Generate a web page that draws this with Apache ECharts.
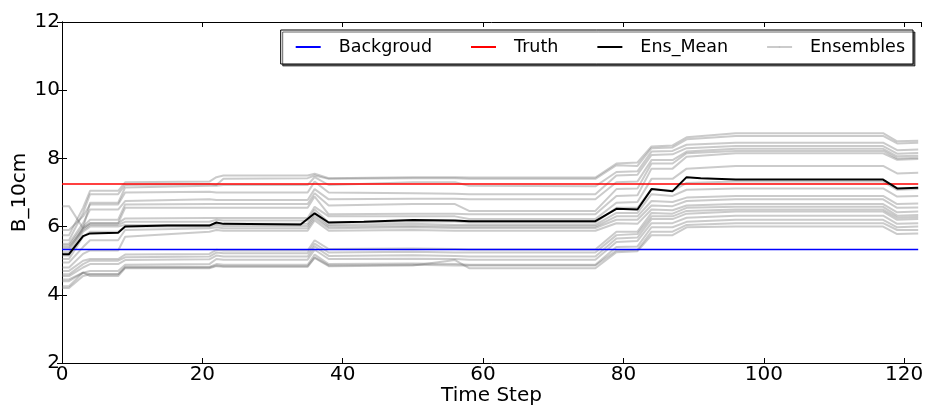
<!DOCTYPE html>
<html>
<head>
<meta charset="utf-8">
<script src="https://cdn.jsdelivr.net/npm/echarts@6/dist/echarts.min.js"></script>
<style>
  html, body { margin: 0; padding: 0; background: #fff; }
  #main { width: 929px; height: 412px; }
</style>
</head>
<body>
<div id="main"></div>
<script>
// reference levels
var backgroundVal = 5.33;
var truthVal = 7.25;
var lineEnd = 122;

// ensemble mean
var meanSteps = [0, 1, 3, 4, 8, 9, 15, 21, 22, 23, 34, 36, 38, 43, 50, 56, 58, 76, 79, 82, 84, 87, 89, 91, 96, 117, 119, 122];
var meanVals  = [5.19, 5.19, 5.72, 5.80, 5.82, 6.00, 6.03, 6.03, 6.12, 6.08, 6.06, 6.39, 6.12, 6.14, 6.19, 6.18, 6.16, 6.16, 6.52, 6.50, 7.10, 7.04, 7.45, 7.42, 7.38, 7.38, 7.12, 7.14];

// ensemble members, values at these steps
var ensSteps = [0, 1, 3, 4, 8, 9, 21, 22, 23, 35, 36, 38, 50, 56, 58, 76, 79, 82, 84, 87, 89, 96, 117, 119, 122];
var members = [
  [5.75, 5.75, 6.55, 7.05, 7.05, 7.30, 7.32, 7.45, 7.50, 7.50, 7.55, 7.42, 7.45, 7.45, 7.44, 7.44, 7.85, 7.88, 8.35, 8.38, 8.62, 8.74, 8.74, 8.50, 8.52],
  [5.60, 5.60, 6.40, 6.95, 6.95, 7.22, 7.25, 7.22, 7.40, 7.42, 7.50, 7.40, 7.42, 7.42, 7.40, 7.40, 7.80, 7.78, 8.30, 8.32, 8.56, 8.66, 8.66, 8.44, 8.46],
  [6.60, 6.60, 5.95, 6.70, 6.70, 7.15, 7.20, 7.20, 7.22, 7.22, 7.45, 7.22, 7.30, 7.30, 7.20, 7.18, 7.60, 7.62, 8.20, 8.22, 8.40, 8.46, 8.46, 8.24, 8.26],
  [5.90, 5.90, 6.30, 6.65, 6.65, 7.00, 7.02, 7.00, 7.00, 7.00, 7.32, 7.00, 6.98, 6.96, 6.95, 6.95, 7.50, 7.52, 8.10, 8.12, 8.30, 8.36, 8.36, 8.14, 8.16],
  [5.50, 5.50, 6.10, 6.50, 6.50, 6.75, 6.80, 6.78, 6.78, 6.78, 7.10, 6.80, 6.82, 6.82, 6.80, 6.80, 7.30, 7.32, 7.95, 7.95, 8.20, 8.28, 8.28, 8.06, 8.08],
  [5.45, 5.45, 6.00, 6.20, 6.20, 6.65, 6.66, 6.66, 6.66, 6.66, 6.98, 6.62, 6.66, 6.66, 6.46, 6.46, 7.10, 7.12, 7.85, 7.85, 8.15, 8.22, 8.22, 8.00, 8.02],
  [5.35, 5.35, 5.95, 6.10, 6.10, 6.55, 6.55, 6.55, 6.55, 6.55, 6.88, 6.36, 6.38, 6.38, 6.36, 6.36, 6.90, 6.92, 7.70, 7.70, 8.05, 8.15, 8.15, 7.96, 7.98],
  [5.25, 5.25, 5.95, 6.10, 6.10, 6.24, 6.25, 6.25, 6.25, 6.25, 6.58, 6.30, 6.30, 6.30, 6.22, 6.22, 6.70, 6.72, 7.40, 7.40, 7.70, 7.78, 7.78, 7.56, 7.58],
  [5.40, 5.40, 5.90, 6.05, 6.05, 6.14, 6.14, 6.20, 6.18, 6.18, 6.50, 6.12, 6.15, 6.15, 6.12, 6.12, 6.55, 6.55, 7.10, 7.05, 7.28, 7.32, 7.32, 7.08, 7.10],
  [5.15, 5.15, 5.85, 6.00, 6.00, 6.05, 6.05, 6.10, 6.08, 6.08, 6.40, 6.05, 6.08, 6.05, 6.05, 6.05, 6.40, 6.40, 6.95, 6.90, 7.08, 7.12, 7.12, 6.88, 6.90],
  [5.05, 5.05, 5.70, 5.85, 5.85, 6.00, 6.00, 6.05, 6.02, 6.02, 6.32, 6.00, 6.02, 6.00, 6.00, 6.00, 6.30, 6.30, 6.75, 6.72, 6.85, 6.90, 6.90, 6.66, 6.68],
  [4.95, 4.95, 5.40, 5.60, 5.60, 5.90, 5.95, 5.98, 5.95, 5.95, 6.25, 5.95, 5.98, 5.96, 5.96, 5.96, 6.20, 6.20, 6.62, 6.60, 6.75, 6.80, 6.80, 6.55, 6.56],
  [4.80, 4.80, 5.20, 5.30, 5.30, 5.70, 5.85, 5.90, 5.88, 5.88, 6.18, 5.88, 5.90, 5.88, 5.88, 5.88, 6.10, 6.08, 6.50, 6.48, 6.62, 6.66, 6.66, 6.42, 6.44],
  [4.70, 4.70, 5.00, 5.05, 5.05, 5.18, 5.20, 5.32, 5.30, 5.30, 5.60, 5.34, 5.36, 5.34, 5.33, 5.33, 5.85, 5.85, 6.40, 6.38, 6.55, 6.58, 6.58, 6.32, 6.34],
  [4.60, 4.60, 4.90, 5.00, 5.00, 5.10, 5.12, 5.24, 5.22, 5.22, 5.50, 5.24, 5.26, 5.24, 5.24, 5.24, 5.75, 5.78, 6.30, 6.30, 6.46, 6.50, 6.50, 6.26, 6.28],
  [4.55, 4.55, 4.80, 4.90, 4.90, 5.02, 5.04, 5.15, 5.12, 5.12, 5.42, 5.14, 5.16, 5.14, 5.12, 5.12, 5.65, 5.68, 6.22, 6.22, 6.38, 6.44, 6.44, 6.20, 6.22],
  [4.45, 4.45, 4.65, 4.70, 4.70, 4.88, 4.90, 5.05, 5.03, 5.03, 5.32, 5.05, 5.06, 5.05, 5.03, 5.03, 5.55, 5.58, 6.10, 6.10, 6.26, 6.32, 6.32, 6.08, 6.10],
  [4.40, 4.40, 4.65, 4.60, 4.60, 4.82, 4.82, 4.90, 4.88, 4.88, 5.18, 4.90, 4.92, 4.90, 4.88, 4.88, 5.40, 5.42, 5.98, 5.98, 6.14, 6.20, 6.20, 5.98, 6.00],
  [4.20, 4.20, 4.55, 4.60, 4.60, 4.80, 4.80, 4.86, 4.84, 4.84, 5.10, 4.86, 4.88, 4.86, 4.86, 4.86, 5.30, 5.32, 5.85, 5.85, 6.05, 6.10, 6.10, 5.90, 5.90],
  [4.25, 4.25, 4.65, 4.55, 4.55, 4.78, 4.78, 4.84, 4.82, 4.82, 5.08, 4.84, 4.86, 5.02, 4.78, 4.78, 5.25, 5.28, 5.75, 5.75, 5.98, 6.00, 6.00, 5.78, 5.80]
];

var xTicks = [0, 20, 40, 60, 80, 100, 120];
var yTicks = [2, 4, 6, 8, 10, 12];

var chart = echarts.init(document.getElementById('main'));

var font = 'DejaVu Sans';
var series = [];

members.forEach(function(m) {
  series.push({
    name: 'Ensembles',
    type: 'line',
    symbol: 'none',
    data: ensSteps.map(function(s, i) { return [s, m[i]]; }),
    lineStyle: { color: 'rgba(110,110,110,0.36)', width: 2 },
    itemStyle: { color: 'rgba(180,180,180,0.6)' },
    z: 1
  });
});

series.push({
  name: 'Backgroud',
  type: 'line',
  symbol: 'none',
  data: [[0, backgroundVal], [lineEnd, backgroundVal]],
  lineStyle: { color: '#0000ff', width: 1.6 },
  itemStyle: { color: '#0000ff' },
  z: 3
});
series.push({
  name: 'Truth',
  type: 'line',
  symbol: 'none',
  data: [[0, truthVal], [lineEnd, truthVal]],
  lineStyle: { color: '#ff0000', width: 1.6 },
  itemStyle: { color: '#ff0000' },
  z: 3
});
series.push({
  name: 'Ens_Mean',
  type: 'line',
  symbol: 'none',
  data: meanSteps.map(function(s, i) { return [s, meanVals[i]]; }),
  lineStyle: { color: '#000000', width: 2 },
  itemStyle: { color: '#000000' },
  z: 4
});

var option = {
  animation: false,
  backgroundColor: '#fff',
  textStyle: { fontFamily: font },
  grid: { left: 62, right: 8, top: 22, bottom: 49, outerBoundsMode: 'none', containLabel: false },
  legend: {
    data: ['Backgroud', 'Truth', 'Ens_Mean', 'Ensembles'],
    right: 16,
    top: 30,
    padding: [8, 8, 8, 14],
    itemWidth: 25,
    itemHeight: 2,
    itemGap: 38,
    backgroundColor: '#fff',
    borderColor: '#000',
    borderWidth: 1,
    borderRadius: 0,
    shadowColor: 'rgba(0,0,0,0.6)',
    shadowOffsetX: 2,
    shadowOffsetY: 2,
    shadowBlur: 0,
    textStyle: { fontFamily: font, fontSize: 17.5, color: '#000', padding: [0, 0, 0, 13] }
  },
  xAxis: [{
    type: 'value',
    min: 0,
    max: 122.4,
    interval: 20,
    name: 'Time Step',
    nameLocation: 'middle',
    nameGap: 23,
    nameMoveOverlap: false,
    nameTextStyle: { fontFamily: font, fontSize: 20, color: '#000' },
    axisLine: { show: true, lineStyle: { color: '#000', width: 1 } },
    axisTick: { show: true, inside: true, length: 5, lineStyle: { color: '#000' } },
    axisLabel: {
      fontFamily: font, fontSize: 20, color: '#000', margin: 2, showMaxLabel: false,
      formatter: function(v) { return xTicks.indexOf(v) >= 0 ? String(v) : ''; }
    },
    splitLine: { show: false }
  }, {
    type: 'value',
    position: 'top',
    min: 0,
    max: 122.4,
    interval: 20,
    axisLine: { show: true, lineStyle: { color: '#000', width: 1 } },
    axisTick: { show: true, inside: true, length: 5, lineStyle: { color: '#000' } },
    axisLabel: { show: false },
    splitLine: { show: false }
  }],
  yAxis: [{
    type: 'value',
    min: 2,
    max: 12,
    interval: 2,
    name: 'B_10cm',
    nameLocation: 'middle',
    nameGap: 32,
    nameMoveOverlap: false,
    nameTextStyle: { fontFamily: font, fontSize: 20, color: '#000' },
    axisLine: { show: true, lineStyle: { color: '#000', width: 1 } },
    axisTick: { show: true, inside: true, length: 5, lineStyle: { color: '#000' } },
    axisLabel: {
      fontFamily: font, fontSize: 20, color: '#000', margin: 2,
      formatter: function(v) { return yTicks.indexOf(v) >= 0 ? String(v) : ''; }
    },
    splitLine: { show: false }
  }, {
    type: 'value',
    position: 'right',
    min: 2,
    max: 12,
    interval: 2,
    axisLine: { show: true, lineStyle: { color: '#000', width: 1 } },
    axisTick: { show: true, inside: true, length: 5, lineStyle: { color: '#000' } },
    axisLabel: { show: false },
    splitLine: { show: false }
  }],
  series: series
};

chart.setOption(option);
</script>
</body>
</html>
